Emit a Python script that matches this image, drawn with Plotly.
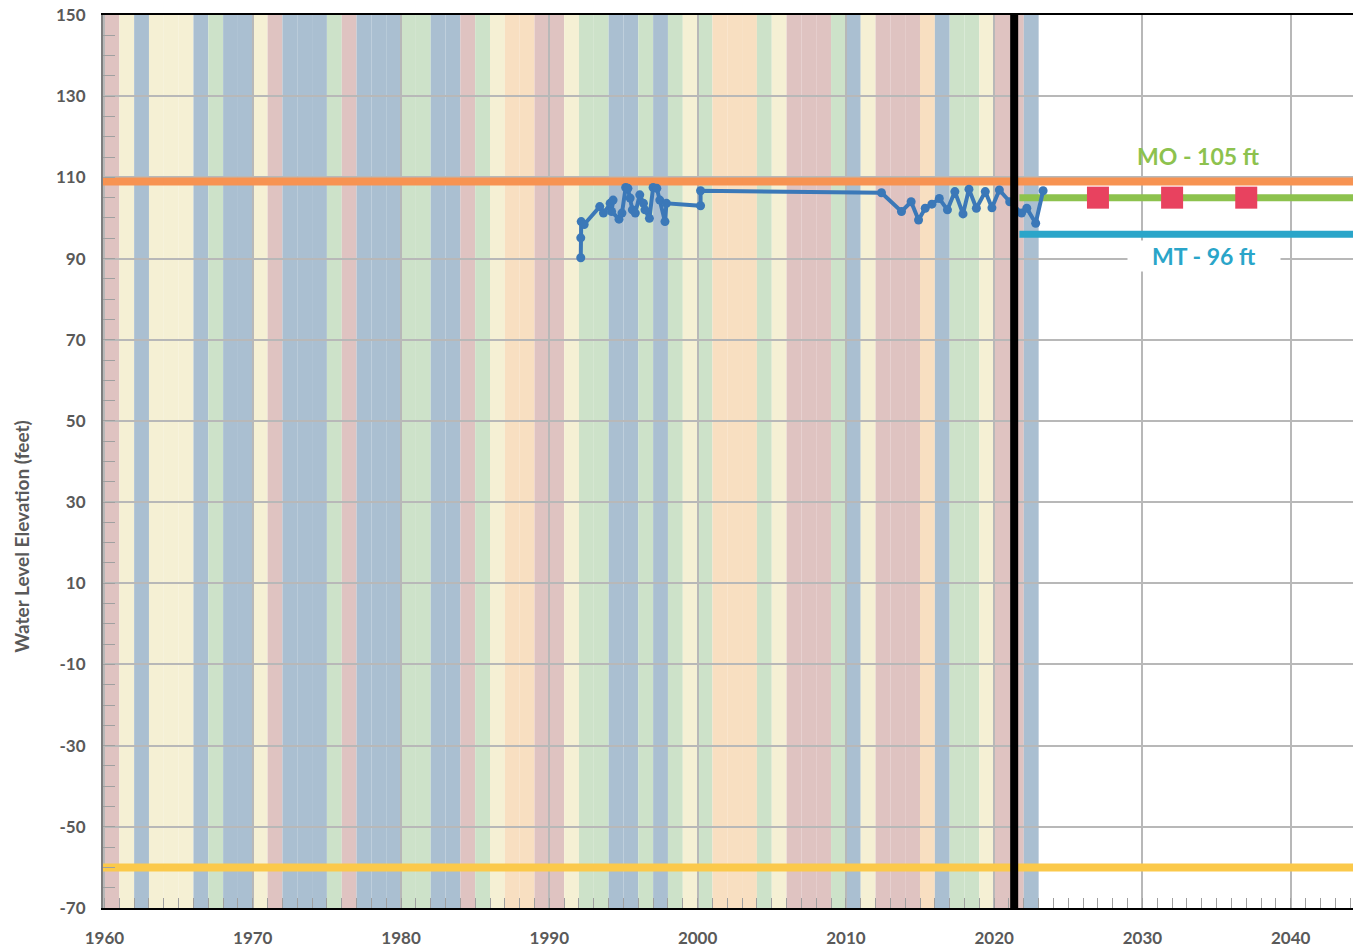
import plotly.graph_objects as go

# water year types, one per year starting 1960 (P=critical, O=dry, Y=below normal, G=above normal, B=wet)
band_years = list(range(1960, 2023))
band_types = ["P", "Y", "B", "Y", "Y", "Y", "B", "G", "B", "B",
              "Y", "P", "B", "B", "B", "G", "P", "B", "B", "B",
              "G", "G", "B", "B", "P", "G", "Y", "O", "O", "P",
              "P", "Y", "G", "G", "B", "B", "G", "B", "G", "Y",
              "G", "O", "O", "O", "G", "Y", "P", "P", "P", "G",
              "B", "Y", "P", "P", "P", "O", "B", "G", "G", "Y",
              "P", "P", "B"]
band_colors = {"P": "#dfc3c1", "O": "#f8dfc1", "Y": "#f5f0d4", "G": "#cde2c9", "B": "#aabfd1"}

# measured groundwater elevation
wl_year = [1992.12, 1992.12, 1992.15, 1992.35, 1993.4, 1993.65, 1994.1, 1994.3, 1994.2,
           1994.7, 1994.9, 1995.15, 1995.3, 1995.45, 1995.6, 1995.8, 1996.1, 1996.35,
           1996.45, 1996.75, 1997.0, 1997.25, 1997.45, 1997.8, 1997.9, 2000.2, 2000.2,
           2012.4, 2013.75, 2014.4, 2014.9, 2015.35, 2015.8, 2016.3, 2016.85, 2017.35,
           2017.9, 2018.3, 2018.8, 2019.4, 2019.85, 2020.35, 2021.05, 2021.85, 2022.2,
           2022.8, 2023.3]
wl_value = [90.2, 95.1, 99.1, 98.4, 102.8, 101.2, 103.6, 104.4, 101.6,
            99.7, 101.2, 107.5, 107.3, 104.9, 102.0, 101.2, 105.7, 103.6,
            102.0, 99.9, 107.5, 107.3, 104.4, 99.1, 103.6, 103.0, 106.7,
            106.2, 101.6, 104.0, 99.5, 102.4, 103.4, 104.8, 102.0, 106.5,
            101.0, 107.1, 102.4, 106.5, 102.5, 106.9, 104.0, 101.2, 102.4,
            98.7, 106.7]

y_ticks = [-70, -50, -30, -10, 10, 30, 50, 70, 90, 110, 130, 150]
y_tick_text = ["-70", "-50", "-30", "-10", "10", "30", "50", "70", "90", "110", "130", "150"]

x_min, x_max = 1959.9, 2044.2
orange_level = 109
yellow_level = -60
mo_level = 105
mt_level = 96
sgma_start = 2021.7
divider_year = 2021.35
milestone_years = [2027, 2032, 2037]

fig = go.Figure()

# horizontal reference lines
fig.add_trace(go.Scatter(x=[x_min, x_max], y=[orange_level] * 2, mode="lines",
                         line=dict(color="#f79352", width=8), hoverinfo="skip"))
fig.add_trace(go.Scatter(x=[x_min, x_max], y=[yellow_level] * 2, mode="lines",
                         line=dict(color="#fbc94b", width=8), hoverinfo="skip"))
fig.add_trace(go.Scatter(x=[sgma_start, x_max], y=[mo_level] * 2, mode="lines",
                         line=dict(color="#8dc24e", width=7), hoverinfo="skip"))
fig.add_trace(go.Scatter(x=[sgma_start, x_max], y=[mt_level] * 2, mode="lines",
                         line=dict(color="#2aa5c9", width=7), hoverinfo="skip"))

# water level data
fig.add_trace(go.Scatter(x=wl_year, y=wl_value, mode="lines+markers",
                         line=dict(color="#3b78b8", width=4),
                         marker=dict(color="#3b78b8", size=9)))

# black divider
fig.add_trace(go.Scatter(x=[divider_year] * 2, y=[-71, 150], mode="lines",
                         line=dict(color="black", width=8), cliponaxis=False, hoverinfo="skip"))

# interim milestones
fig.add_trace(go.Scatter(x=milestone_years, y=[mo_level] * len(milestone_years), mode="markers",
                         marker=dict(symbol="square", size=22, color="#e8425f"),
                         hoverinfo="skip"))

# water year type bands
for yr, t in zip(band_years, band_types):
    fig.add_shape(type="rect", xref="x", yref="paper", x0=max(yr, x_min), x1=yr + 1, y0=0, y1=1,
                  fillcolor=band_colors[t], line_width=0, layer="below")

tick_font = dict(family="Lato", size=17, color="#595959", weight="bold")

fig.update_xaxes(
    range=[x_min, x_max], tick0=1960, dtick=10,
    showgrid=True, gridcolor="#b8b8b8", gridwidth=1.5,
    ticks="inside", ticklen=10, tickcolor="#a0a0a0",
    minor=dict(dtick=1, tick0=1960, ticks="inside", ticklen=10, tickcolor="#a0a0a0", showgrid=False),
    showline=True, linecolor="black", linewidth=2, mirror=True,
    tickfont=tick_font, ticklabelstandoff=14, zeroline=False,
)
fig.update_yaxes(
    range=[-70, 150], tickvals=y_ticks, ticktext=y_tick_text,
    showgrid=True, gridcolor="#b8b8b8", gridwidth=1.5,
    ticks="inside", ticklen=12, tickcolor="#a0a0a0",
    minor=dict(dtick=5, tick0=-70, ticks="inside", ticklen=12, tickcolor="#a0a0a0", showgrid=False),
    showline=True, linecolor="#7f7f7f", linewidth=2,
    tickfont=tick_font, ticklabelstandoff=12, zeroline=False,
)

fig.add_annotation(text="Water Level Elevation (feet)", xref="paper", yref="paper",
                   x=-0.065, y=0.4155, xanchor="center", yanchor="middle", textangle=-90,
                   showarrow=False,
                   font=dict(family="Lato", size=19, color="#595959", weight="bold"))
fig.add_annotation(text="MO - 105 ft", x=2033.75, y=115.3, showarrow=False,
                   font=dict(family="Lato", size=23, color="#8dc24e", weight="bold"))
fig.add_annotation(text="MT - 96 ft", x=2034.15, y=90.6, showarrow=False, width=150,
                   bgcolor="white", font=dict(family="Lato", size=23, color="#2aa5c9", weight="bold"))

fig.update_layout(
    width=1353, height=948,
    margin=dict(l=103, r=0, t=15, b=40),
    plot_bgcolor="white", paper_bgcolor="white",
    showlegend=False,
)

# drop the default page margin so the figure sits flush in the window
fig.write_html("out.html", config={"displayModeBar": False},
               post_script="document.body.style.margin='0';document.body.style.overflow='hidden';")
